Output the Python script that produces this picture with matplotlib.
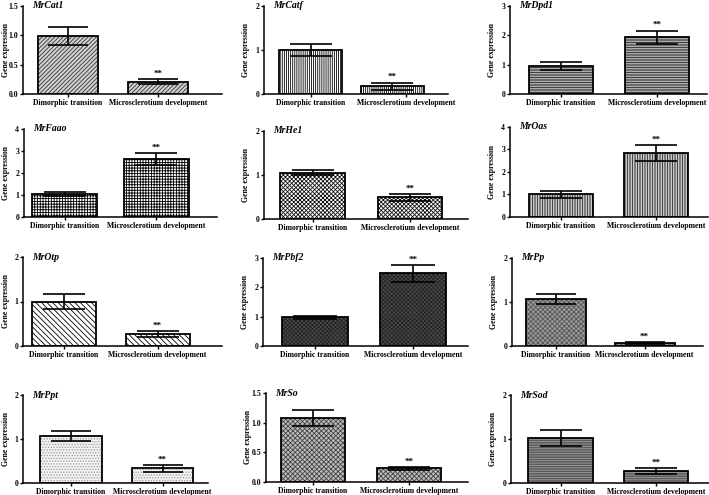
import numpy as np
import matplotlib.pyplot as plt

plt.rcParams['font.family'] = ['Liberation Serif', 'DejaVu Serif']
plt.rcParams['font.weight'] = 'bold'
plt.rcParams['hatch.linewidth'] = 0.6

genes = ["MrCat1", "MrCatf", "MrDpd1", "MrFaao", "MrHe1", "MrOas",
         "MrOtp", "MrPbf2", "MrPp", "MrPpt", "MrSo", "MrSod"]
groups = ["Dimorphic transition", "Microsclerotium development"]
means = [[0.99, 0.21], [1.00, 0.18], [0.95, 1.94], [1.05, 2.62],
         [1.05, 0.49], [1.00, 2.84], [1.00, 0.27], [0.98, 2.48],
         [1.07, 0.06], [1.07, 0.33], [1.08, 0.23], [1.03, 0.27]]
errs = [[0.15, 0.04], [0.13, 0.08], [0.13, 0.22], [0.10, 0.27],
        [0.06, 0.07], [0.15, 0.34], [0.17, 0.07], [0.05, 0.29],
        [0.12, 0.02], [0.12, 0.07], [0.14, 0.02], [0.18, 0.07]]
ymax = [1.5, 2, 3, 4, 2, 4, 2, 3, 2, 2, 1.5, 2]
ystep = [0.5, 1, 1, 1, 1, 1, 1, 1, 1, 1, 0.5, 1]

# pixel layout: y-axis x, x-axis end, top tick y, zero y, bar centres, bar width
layout = [
    (23, 222, 6, 94, 68, 158, 60),
    (264, 448, 6, 94, 310.5, 392, 63),
    (510, 707, 6, 94, 561, 657, 64),
    (24, 217, 129, 217, 64.5, 156, 65),
    (264, 468, 131, 219, 312.5, 410, 64.5),
    (510, 708, 127, 217, 561, 656, 64),
    (23, 222, 257, 346, 63.5, 157.5, 64),
    (263, 468, 258, 346, 314.5, 413, 66),
    (512, 703, 258, 346, 555.5, 644.5, 60),
    (23, 208, 395, 483, 71, 162.5, 61.5),
    (266, 468, 393, 482, 313, 409, 64),
    (511, 709, 395, 483, 560.5, 656, 64.5),
]
# extra shift (px) of the second group label, as in the reference
label_shift = [0, 14, 0, 0, 0, 0, 0, 0, 0, 0, 0, 0]
# fill style per panel: facecolor, hatch, hatch colour
styles = [
    ('#d0d0d0', '////////', '#333333'),
    ('white', '||||||||', 'black'),
    ('#d8d8d8', '----------', '#222222'),
    ('white', '++++++', 'black'),
    ('white', 'xxxxxxxx', '#111111'),
    ('white', '||||||||||', '#222222'),
    ('white', '\\\\\\\\\\\\', 'black'),
    ('#4a4a4a', 'xxxxxxxx', '#222222'),
    ('#9a9a9a', 'xxxxxxx', '#555555'),
    ('#f2f2f2', '......', '#999999'),
    ('#bdbdbd', 'xxxxxxx', '#444444'),
    ('#5a5a5a', '-------', '#a0a0a0'),
]

W, H = 709, 495
fig = plt.figure(figsize=(W / 100, H / 100), dpi=100)

for i, g in enumerate(genes):
    x0, x1, yt, yb, c1, c2, w = layout[i]
    ax = fig.add_axes([x0 / W, 1 - yb / H, (x1 - x0) / W, (yb - yt) / H])
    s = c2 - c1
    ax.set_xlim((x0 - c1) / s, 1 + (x1 - c2) / s)
    ax.set_ylim(0, ymax[i])
    xs = np.arange(2)
    bw = w / s
    fc, hatch, hc = styles[i]
    ax.bar(xs, means[i], bw, color=fc, hatch=hatch, edgecolor=hc, linewidth=0, zorder=2)
    ax.bar(xs, means[i], bw, fill=False, edgecolor='black', linewidth=1.3, zorder=3)
    cap = w * 0.33 * 0.72
    ax.errorbar(xs, means[i], yerr=errs[i], fmt='none', ecolor='black',
                elinewidth=1.2, capsize=cap, capthick=1.2, zorder=4)
    ax.annotate('**', (1, means[i][1] + errs[i][1]), xytext=(0, 1),
                textcoords='offset points', ha='center', va='bottom',
                fontsize=6.5, fontweight='bold')
    ax.text(9 / (x1 - x0), 1.0, g, transform=ax.transAxes, fontsize=7,
            fontweight='bold', style='italic', va='center', ha='left')

    ticks = np.arange(0, ymax[i] + 1e-9, ystep[i])
    ax.set_yticks(ticks)
    if ystep[i] < 1:
        ax.set_yticklabels([f"{t:.1f}" for t in ticks])
    else:
        ax.set_yticklabels([f"{t:.0f}" for t in ticks])
    ax.set_xticks([0, 1 + label_shift[i] / s])
    ax.set_xticklabels(groups)
    ax.tick_params(axis='both', labelsize=5.6, length=2, width=1, pad=1.5)
    ax.set_ylabel('Gene expression', fontsize=5.6, fontweight='bold')
    lab_right = max(x0 - 14, 10)
    ax.yaxis.set_label_coords((lab_right - x0) / (x1 - x0), 0.5)
    for sp in ['top', 'right']:
        ax.spines[sp].set_visible(False)
    for sp in ['left', 'bottom']:
        ax.spines[sp].set_linewidth(1.1)

fig.savefig('out.png', dpi=100)
